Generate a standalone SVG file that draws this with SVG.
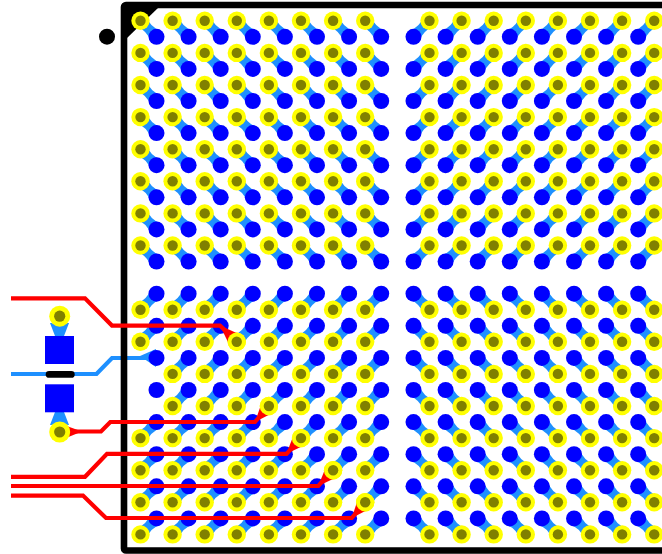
<svg xmlns="http://www.w3.org/2000/svg" xmlns:xlink="http://www.w3.org/1999/xlink" width="662" height="554" viewBox="0 0 662 554">
<style>
.y{fill:#ffff00}.o{fill:#808000}.b{fill:#0000ff}.l{fill:#1e90ff}
.r{fill:none;stroke:#ff0000;stroke-width:4.2;stroke-linejoin:miter}
.rt{fill:#ff0000}
.s{fill:none;stroke:#1e90ff;stroke-width:4.2}
</style>
<defs>
<g id="pad"><circle class="y" r="9.2"/><circle class="o" r="5.2"/></g>
<g id="bigpad"><circle class="y" r="10.5"/><circle class="o" r="5.6"/></g>
<path id="dog" class="l" d="M5.300 -5.300Q9.400 6.600 21.300 10.700L10.700 21.300Q6.600 9.400 -5.300 5.300Z"/>
<circle id="bp" class="b" r="8"/>
<g id="se"><use href="#dog"/><use href="#bp" x="16" y="16"/><use href="#pad"/></g>
<g id="sw"><use href="#dog" transform="rotate(90)"/><use href="#bp" x="-16" y="16"/><use href="#pad"/></g>
<g id="ne"><use href="#dog" transform="rotate(-90)"/><use href="#bp" x="16" y="-16"/><use href="#pad"/></g>
<g id="nw"><use href="#dog" transform="rotate(180)"/><use href="#bp" x="-16" y="-16"/><use href="#pad"/></g>
<g id="rse"><use href="#se" x="0"/><use href="#se" x="32.1"/><use href="#se" x="64.2"/><use href="#se" x="96.3"/><use href="#se" x="128.4"/><use href="#se" x="160.5"/><use href="#se" x="192.6"/><use href="#se" x="224.7"/></g>
<g id="rsw"><use href="#sw" x="0"/><use href="#sw" x="32.1"/><use href="#sw" x="64.2"/><use href="#sw" x="96.3"/><use href="#sw" x="128.4"/><use href="#sw" x="160.5"/><use href="#sw" x="192.6"/><use href="#sw" x="224.7"/></g>
<g id="rne"><use href="#ne" x="0"/><use href="#ne" x="32.1"/><use href="#ne" x="64.2"/><use href="#ne" x="96.3"/><use href="#ne" x="128.4"/><use href="#ne" x="160.5"/><use href="#ne" x="192.6"/><use href="#ne" x="224.7"/></g>
<g id="rnw"><use href="#nw" x="0"/><use href="#nw" x="32.1"/><use href="#nw" x="64.2"/><use href="#nw" x="96.3"/><use href="#nw" x="128.4"/><use href="#nw" x="160.5"/><use href="#nw" x="192.6"/><use href="#nw" x="224.7"/></g>
<g id="rne7"><use href="#ne" x="32.1"/><use href="#ne" x="64.2"/><use href="#ne" x="96.3"/><use href="#ne" x="128.4"/><use href="#ne" x="160.5"/><use href="#ne" x="192.6"/><use href="#ne" x="224.7"/></g>
</defs>
<rect width="662" height="554" fill="#fff"/>
<g id="trace-blue">
<path class="s" d="M11 374H96.5L112 358H150"/>
<polygon class="l" points="140,356 156,349 156,367"/>
<polygon class="l" points="50,323 69,323 64,336 55,336"/>
<polygon class="l" points="50,425 69,425 64,412 55,412"/>
</g>
<g id="outline">
<rect x="124" y="5" width="640" height="545.5" rx="2" fill="none" stroke="#000" stroke-width="6.6"/>
<polygon points="127,8 158,8 127,38" fill="#000"/>
<circle cx="107" cy="36.7" r="8" fill="#000"/>
</g>
<g id="quadrant-top-left">
<use href="#rse" x="140.500" y="20.800"/><use href="#rse" x="140.500" y="52.900"/><use href="#rse" x="140.500" y="85"/><use href="#rse" x="140.500" y="117.100"/><use href="#rse" x="140.500" y="149.200"/><use href="#rse" x="140.500" y="181.300"/><use href="#rse" x="140.500" y="213.400"/><use href="#rse" x="140.500" y="245.500"/>
</g>
<g id="quadrant-top-right">
<use href="#rsw" x="429.500" y="20.800"/><use href="#rsw" x="429.500" y="52.900"/><use href="#rsw" x="429.500" y="85"/><use href="#rsw" x="429.500" y="117.100"/><use href="#rsw" x="429.500" y="149.200"/><use href="#rsw" x="429.500" y="181.300"/><use href="#rsw" x="429.500" y="213.400"/><use href="#rsw" x="429.500" y="245.500"/>
</g>
<g id="quadrant-bottom-left">
<use href="#rne" x="140.500" y="309.700"/><use href="#rne" x="140.500" y="341.800"/><use href="#rne7" x="140.500" y="373.900"/><use href="#rne7" x="140.500" y="406"/><use href="#rne" x="140.500" y="438.100"/><use href="#rne" x="140.500" y="470.200"/><use href="#rne" x="140.500" y="502.300"/><use href="#rne" x="140.500" y="534.400"/>
<use href="#bp" x="156.500" y="357.900"/><use href="#bp" x="156.500" y="390"/>
</g>
<g id="quadrant-bottom-right">
<use href="#rnw" x="429.500" y="309.700"/><use href="#rnw" x="429.500" y="341.800"/><use href="#rnw" x="429.500" y="373.900"/><use href="#rnw" x="429.500" y="406"/><use href="#rnw" x="429.500" y="438.100"/><use href="#rnw" x="429.500" y="470.200"/><use href="#rnw" x="429.500" y="502.300"/><use href="#rnw" x="429.500" y="534.400"/>
</g>
<g id="connectors">
<path class="r" d="M11 298.300H85L112 325.600H220L236.700 341"/>
<polygon class="rt" points="220,325.600 242.600,335.700 230.800,347.900"/>
<path class="r" d="M60 431.500H101L110.300 422H255L268.700 406"/>
<polygon class="rt" points="59.700,423.500 59.700,440.500 82,431.500"/>
<polygon class="rt" points="255,422 275.300,411.600 262.500,400.400"/>
<path class="r" d="M11 476.800H85L107 453.800H286.500L301 438"/>
<polygon class="rt" points="286.500,453.800 307,444 294.600,432.400"/>
<path class="r" d="M11 486H318.300L332.500 470"/>
<polygon class="rt" points="318.300,486 339.300,476 326.900,464.400"/>
<path class="r" d="M11 495.600H83L106 518H351.700L365 502.500"/>
<polygon class="rt" points="351.700,518 371.600,507.800 358.800,496.800"/>
</g>
<g id="pads-over-traces">
<use href="#pad" x="236.700" y="341.800"/>
<use href="#pad" x="268.900" y="406"/>
<use href="#pad" x="301" y="438.100"/>
<use href="#pad" x="333.100" y="470.200"/>
<use href="#pad" x="365.200" y="502.300"/>
</g>
<g id="capacitor-top">
<rect class="b" x="45" y="336" width="29" height="28"/>
<use href="#bigpad" x="59.700" y="316.200"/>
</g>
<g id="capacitor-bottom">
<rect class="b" x="45" y="384.300" width="29" height="28"/>
<use href="#bigpad" x="59.700" y="432"/>
</g>
<g id="capacitor-bar">
<rect x="45.700" y="371" width="29" height="6.800" rx="3.400" fill="#000"/>
</g>
</svg>
